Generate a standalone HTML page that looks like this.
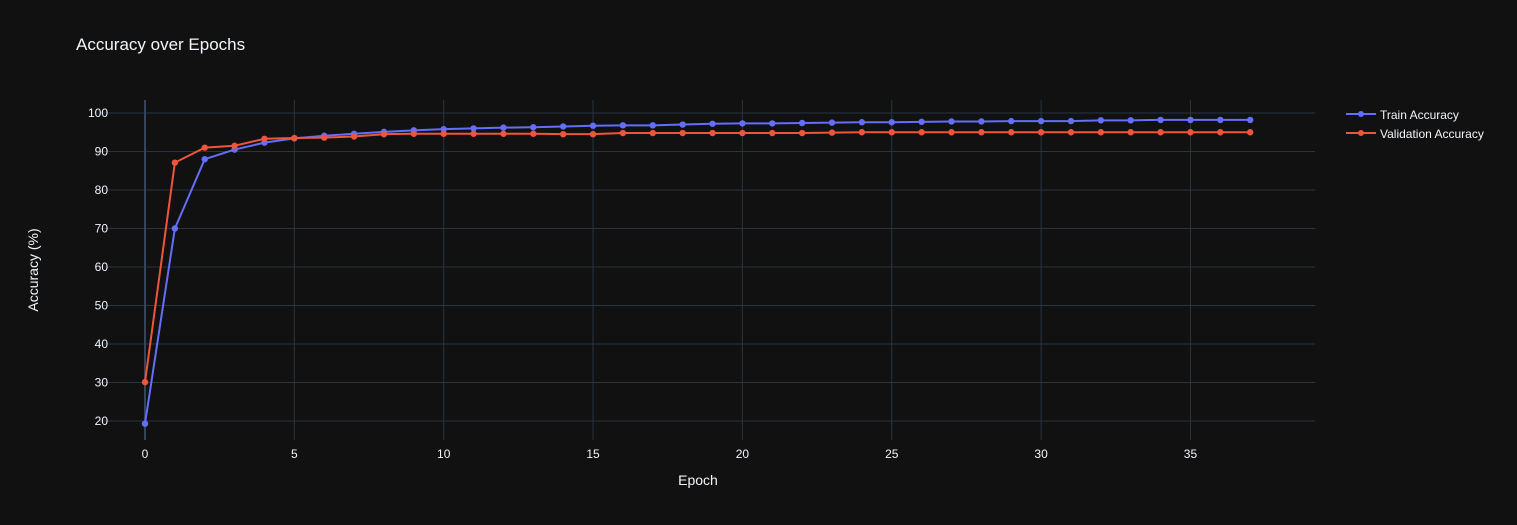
<!DOCTYPE html>
<html><head><meta charset="utf-8"><style>
body{margin:0;background:#111111;}
svg{display:block;font-family:"Liberation Sans",sans-serif;}
</style></head><body>
<svg id="chart" width="1517" height="525">
<rect width="1517" height="525" fill="#111111"/>
<text x="76" y="50" fill="#f2f5fa" font-size="17">Accuracy over Epochs</text>
<g id="grid"></g><g id="series"></g><g id="ticks"></g>
<text x="698" y="485" fill="#f2f5fa" font-size="14" text-anchor="middle">Epoch</text>
<text transform="translate(38,270) rotate(-90)" fill="#f2f5fa" font-size="14" text-anchor="middle">Accuracy (%)</text>
<g>
<g><line x1="1346" y1="114" x2="1376" y2="114" stroke="#636efa" stroke-width="2"/><circle cx="1361" cy="114" r="3" fill="#636efa"/><text x="1380" y="119" fill="#f2f5fa" font-size="12">Train Accuracy</text></g>
<g><line x1="1346" y1="133" x2="1376" y2="133" stroke="#ef553b" stroke-width="2"/><circle cx="1361" cy="133" r="3" fill="#ef553b"/><text x="1380" y="138" fill="#f2f5fa" font-size="12">Validation Accuracy</text></g>
</g>
</svg>
<script>
const epochs=[...Array(38).keys()];
const trainAcc=[19.3,70,88,90.5,92.3,93.4,94.1,94.6,95.1,95.5,95.8,96.0,96.2,96.3,96.5,96.7,96.8,96.8,97.0,97.2,97.3,97.3,97.4,97.5,97.6,97.6,97.7,97.8,97.8,97.9,97.9,97.9,98.1,98.1,98.2,98.2,98.2,98.2];
const valAcc=[30.1,87.1,91,91.5,93.3,93.5,93.6,93.9,94.5,94.6,94.6,94.6,94.6,94.6,94.5,94.5,94.8,94.8,94.8,94.8,94.8,94.8,94.8,94.9,95,95,95,95,95,95,95,95,95,95,95,95,95,95];
const xTicks=[0,5,10,15,20,25,30,35];
const yTicks=[20,30,40,50,60,70,80,90,100];
const NS="http://www.w3.org/2000/svg";
const L=100,R=1315,T=100,B=440;
const xs=v=>145+v*29.87;
const ys=v=>113+(100-v)*3.85;
function mk(tag,attrs,parent){const e=document.createElementNS(NS,tag);for(const k in attrs)e.setAttribute(k,attrs[k]);parent.appendChild(e);return e;}
const grid=document.getElementById('grid'),ticks=document.getElementById('ticks'),ser=document.getElementById('series');
yTicks.forEach(v=>{
 const l=mk('line',{x1:L,x2:R,y1:ys(v),y2:ys(v),stroke:'#283442','stroke-width':1},grid);
 
 
 const t=mk('text',{x:L+8,y:ys(v)+4,fill:'#f2f5fa','font-size':12,'text-anchor':'end'},ticks);t.textContent=v;
 
 
});
xTicks.forEach(v=>{
 const l=mk('line',{x1:xs(v),x2:xs(v),y1:T,y2:B,stroke:v===0?'#34445a':'#283442','stroke-width':v===0?2:1},grid);
 
 
 const t=mk('text',{x:xs(v),y:B+18,fill:'#f2f5fa','font-size':12,'text-anchor':'middle'},ticks);t.textContent=v;
 
 
});
[[trainAcc,'#636efa','train'],[valAcc,'#ef553b','validation']].forEach(([d,c,n])=>{
 const p=mk('polyline',{points:d.map((v,i)=>xs(epochs[i])+','+ys(v)).join(' '),fill:'none',stroke:c,'stroke-width':2},ser);
 
 
 d.forEach((v,i)=>{const m=mk('circle',{cx:xs(epochs[i]),cy:ys(v),r:3.2,fill:c},ser);
  
  });
});
</script>
</body></html>
